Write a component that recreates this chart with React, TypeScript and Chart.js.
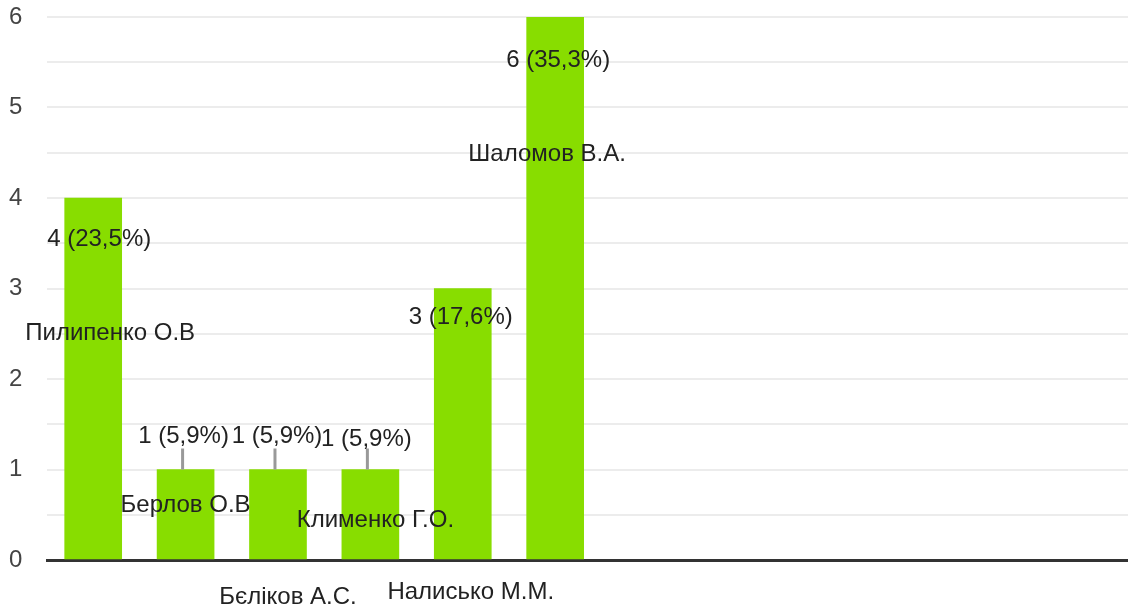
import React, { useEffect, useRef } from "react";
import { Chart, registerables } from "chart.js";

Chart.register(...registerables);

// ---- data ----
const categories = [
  "Пилипенко О.В",
  "Берлов О.В",
  "Бєліков А.С.",
  "Клименко Г.О.",
  "Налисько М.М.",
  "Шаломов В.А.",
];
const counts = [4, 1, 1, 1, 3, 6];
const percents = ["23,5%", "5,9%", "5,9%", "5,9%", "17,6%", "35,3%"];
const yTickValues = [0, 1, 2, 3, 4, 5, 6];

// ---- layout of the annotation labels (y in value units, x shift in px) ----
const valueLabelY = [3.54, 1.37, 1.37, 1.33, 2.68, 5.52];
const valueLabelDX = [6, -2, -1, -4, -2, 3];
const nameLabelY = [2.5, 0.6, -0.41, 0.44, -0.36, 4.48];
const nameLabelDX = [17, 0, 10, 5, 8, -8];

const FONT = "'Liberation Sans', Arial, sans-serif";

const labelPlugin = {
  id: "labelPlugin",
  afterDatasetsDraw(chart: any) {
    const ctx = chart.ctx as CanvasRenderingContext2D;
    const meta = chart.getDatasetMeta(0);
    const ys = chart.scales.y;
    ctx.save();
    ctx.font = `24px ${FONT}`;
    ctx.textAlign = "center";
    ctx.textBaseline = "middle";
    meta.data.forEach((bar: any, i: number) => {
      const v = counts[i];
      const text = `${v} (${percents[i]})`;
      const x = bar.x;
      const top = bar.y;
      const ly = ys.getPixelForValue(valueLabelY[i]);
      if (ly < top) {
        ctx.strokeStyle = "#999999";
        ctx.lineWidth = 3;
        ctx.beginPath();
        ctx.moveTo(x - 3, top);
        ctx.lineTo(x - 3, top - 21);
        ctx.stroke();
      }
      ctx.fillStyle = "#222222";
      ctx.fillText(text, x + valueLabelDX[i], ly);
      ctx.fillText(categories[i], x + nameLabelDX[i], ys.getPixelForValue(nameLabelY[i]));
    });
    ctx.restore();
  },
};

export default function App() {
  const ref = useRef<HTMLCanvasElement>(null);
  useEffect(() => {
    if (!ref.current) return;
    const chart = new Chart(ref.current, {
      type: "bar",
      data: {
        datasets: [
          {
            data: counts.map((v, i) => ({ x: i, y: v })),
            backgroundColor: "#88dd00",
            borderWidth: 0,
            barThickness: 57,
          },
        ],
      },
      options: {
        animation: false,
        responsive: false,
        devicePixelRatio: 1,
        layout: { padding: { left: 9, top: 17, right: 0, bottom: 0 } },
        plugins: { legend: { display: false }, tooltip: { enabled: false } },
        scales: {
          x: {
            type: "linear",
            min: -0.5,
            max: 11.2,
            offset: false,
            ticks: { display: false },
            grid: { display: false },
            border: { display: true, color: "#333333", width: 3 },
            afterFit: (s: any) => {
              s.height = 50;
            },
          },
          y: {
            min: 0,
            max: 6,
            ticks: {
              stepSize: 0.5,
              color: "#444444",
              font: { family: FONT, size: 24 },
              crossAlign: "far",
              padding: 0,
              callback: (v: any) => (yTickValues.includes(Number(v)) ? String(v) : ""),
            },
            grid: { color: "#ececec", lineWidth: 2, drawTicks: false },
            border: { display: false },
            afterFit: (s: any) => {
              s.width = 38;
            },
          },
        },
      },
      plugins: [labelPlugin],
    });
    return () => chart.destroy();
  }, []);
  return (
    <div style={{ position: "fixed", left: 0, top: 0, width: 1128, height: 610, background: "#fff" }}>
      <canvas ref={ref} width={1128} height={610} style={{ width: 1128, height: 610, display: "block" }} />
    </div>
  );
}
